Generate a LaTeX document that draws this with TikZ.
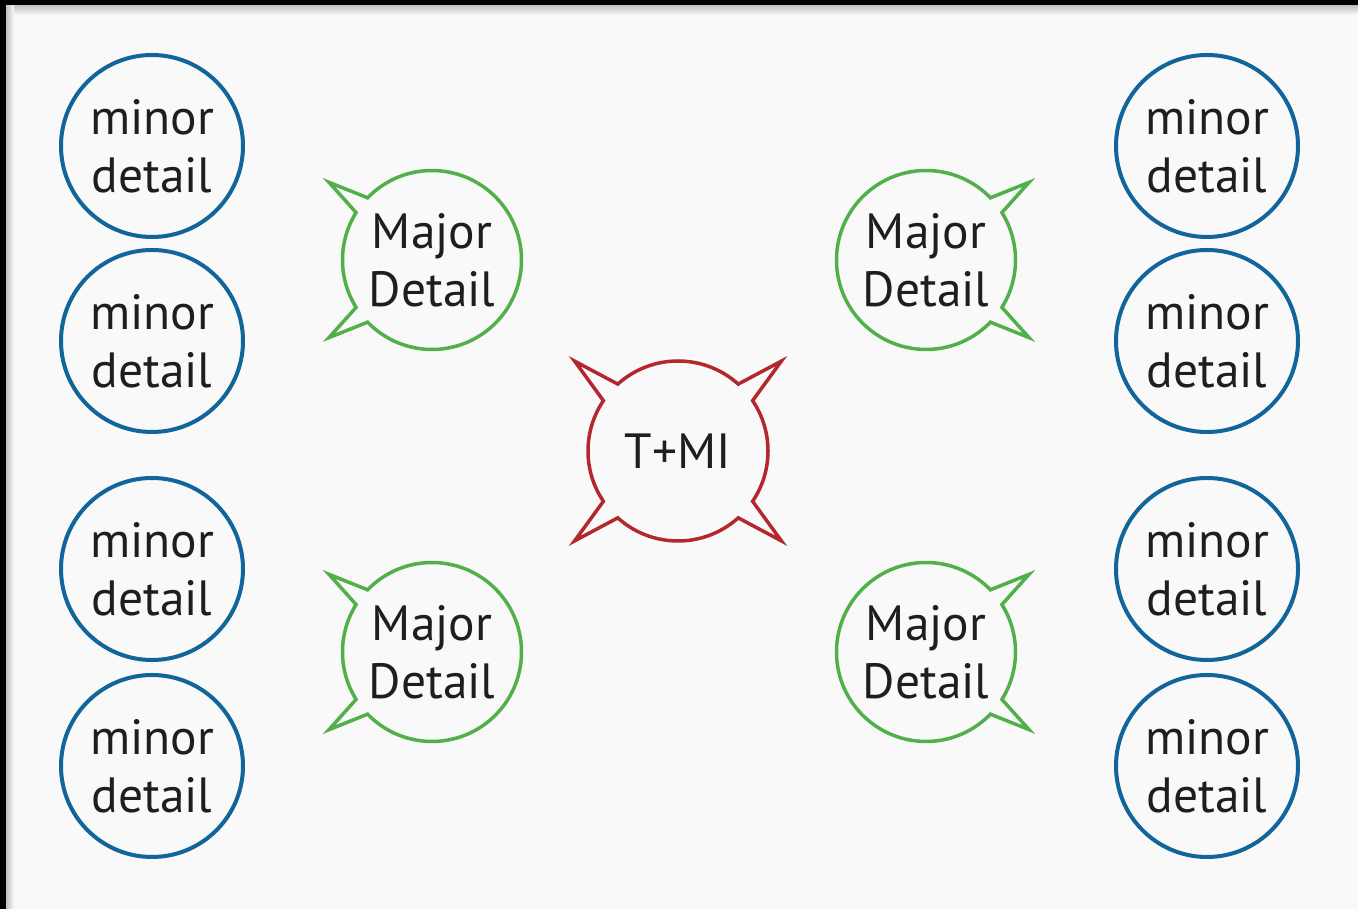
\documentclass[tikz,border=0pt]{standalone}
\usepackage{fontspec}
\setmainfont{PT Sans}
\definecolor{bg}{HTML}{F9F9F9}
\definecolor{mblue}{HTML}{12659A}
\definecolor{mgreen}{HTML}{52B04A}
\definecolor{mred}{HTML}{B3282D}
\definecolor{txt}{HTML}{1E1E1E}
\begin{document}
\begin{tikzpicture}[x=1pt,y=1pt,
  lbl/.style={text=txt, align=center, font=\fontsize{49.5}{58}\selectfont, inner sep=0pt},
  minorc/.style={lbl, circle, draw=mblue, line width=4pt, minimum size=182pt},
  bubble/.style={line width=3.5pt, line join=miter},
]
\useasboundingbox (0,0) rectangle (1358,909);
\fill[bg] (0,0) rectangle (1358,909);
\shade[top color=black!25, bottom color=bg] (6,894) rectangle (1358,904);
\shade[left color=black!25, right color=bg] (6,0) rectangle (14,904);
\fill[black] (0,904) rectangle (1358,909);
\fill[black] (0,0) rectangle (6,909);

% minor details, left column
\node[minorc] (l1) at (152,763) {minor\\detail};
\node[minorc] (l2) at (152,568) {minor\\detail};
\node[minorc] (l3) at (152,340) {minor\\detail};
\node[minorc] (l4) at (152,143) {minor\\detail};
% minor details, right column
\node[minorc] (r1) at (1207,763) {minor\\detail};
\node[minorc] (r2) at (1207,568) {minor\\detail};
\node[minorc] (r3) at (1207,340) {minor\\detail};
\node[minorc] (r4) at (1207,143) {minor\\detail};

% major details
\node[lbl] (tl) at (432,649) {Major\\Detail};
\node[lbl] (bl) at (432,257) {Major\\Detail};
\node[lbl] (tr) at (926,649) {Major\\Detail};
\node[lbl] (br) at (926,257) {Major\\Detail};

\foreach \n in {tl,bl}{
  \draw[bubble, mgreen, shift={(\n.center)}]
    (148:89.5pt) arc[start angle=148, end angle=212, radius=89.5pt]
    -- (217:129pt) -- (224:89.5pt)
    arc[start angle=224, end angle=496, radius=89.5pt]
    -- (143:129pt) -- cycle;
}
\foreach \n in {tr,br}{
  \draw[bubble, mgreen, shift={(\n.center)}]
    (44:89.5pt) arc[start angle=44, end angle=316, radius=89.5pt]
    -- (323:129pt) -- (328:89.5pt)
    arc[start angle=328, end angle=392, radius=89.5pt]
    -- (37:129pt) -- cycle;
}

% main idea
\node[lbl] (c) at (678,458) {T+MI};
\draw[bubble, mred, shift={(c.center)}]
  (48:90pt) arc[start angle=48, end angle=132, radius=90pt]
  -- (139:137pt) -- (146:90pt)
  arc[start angle=146, end angle=214, radius=90pt]
  -- (221:137pt) -- (228:90pt)
  arc[start angle=228, end angle=312, radius=90pt]
  -- (319:137pt) -- (326:90pt)
  arc[start angle=326, end angle=394, radius=90pt]
  -- (41:137pt) -- cycle;
\end{tikzpicture}
\end{document}
